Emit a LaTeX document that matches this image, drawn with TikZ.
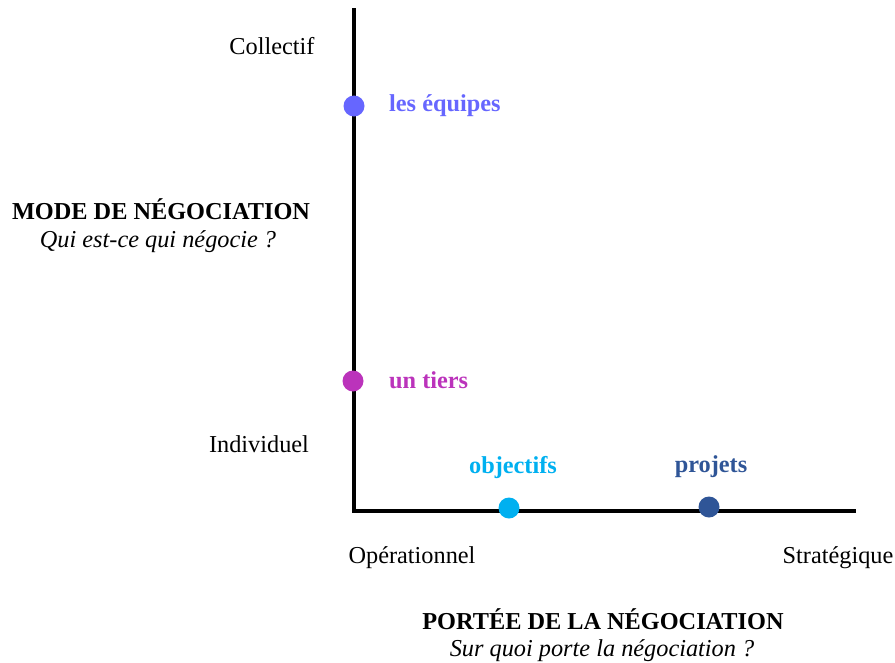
\documentclass[tikz,border=0pt]{standalone}
\usepackage{fontspec}
\setmainfont{Liberation Serif}
\definecolor{cequipes}{HTML}{6666FF}
\definecolor{ctiers}{HTML}{BB33BB}
\definecolor{cobj}{HTML}{00B0F0}
\definecolor{cproj}{HTML}{2F5597}
\begin{document}
\begin{tikzpicture}[x=1pt,y=-1pt,
  lbl/.style={inner sep=0pt,font=\fontsize{24.3}{28}\selectfont},
  blbl/.style={inner sep=0pt,font=\fontsize{24.3}{28}\selectfont\bfseries},
  ilbl/.style={inner sep=0pt,font=\fontsize{24.3}{28}\selectfont\itshape},
  dot/.style={circle,fill=#1,minimum size=21pt,inner sep=0pt},
  axis/.style={line width=3.5pt}]
\useasboundingbox (0,0) rectangle (895,662);
\coordinate (top) at (354,8);
\coordinate (orig) at (354,511);
\coordinate (right) at (856,511);
\draw[axis] (top) -- (orig) -- (right);
\node[dot=cequipes] (d1) at (354,106) {};
\node[dot=ctiers] (d2) at (353,381) {};
\node[dot=cobj] (d3) at (509,508) {};
\node[dot=cproj] (d4) at (709,507) {};
\node[blbl,text=cequipes,anchor=west] (t1) at (389,106) {les équipes};
\node[blbl,text=ctiers,anchor=west] (t2) at (389,380) {un tiers};
\node[blbl,text=cobj] (t3) at (513,468) {objectifs};
\node[blbl,text=cproj] (t4) at (711,467) {projets};
\node[lbl] (coll) at (272,46) {Collectif};
\node[lbl] (ind) at (259,444) {Individuel};
\node[lbl] (op) at (412,558) {Opérationnel};
\node[lbl] (str) at (838,558) {Stratégique};
\node[blbl] (mode) at (161,209) {MODE DE NÉGOCIATION};
\node[ilbl] (modeq) at (158,242) {Qui est-ce qui négocie ?};
\node[blbl] (port) at (603,619) {PORTÉE DE LA NÉGOCIATION};
\node[ilbl] (portq) at (602,651) {Sur quoi porte la négociation ?};
\end{tikzpicture}
\end{document}
